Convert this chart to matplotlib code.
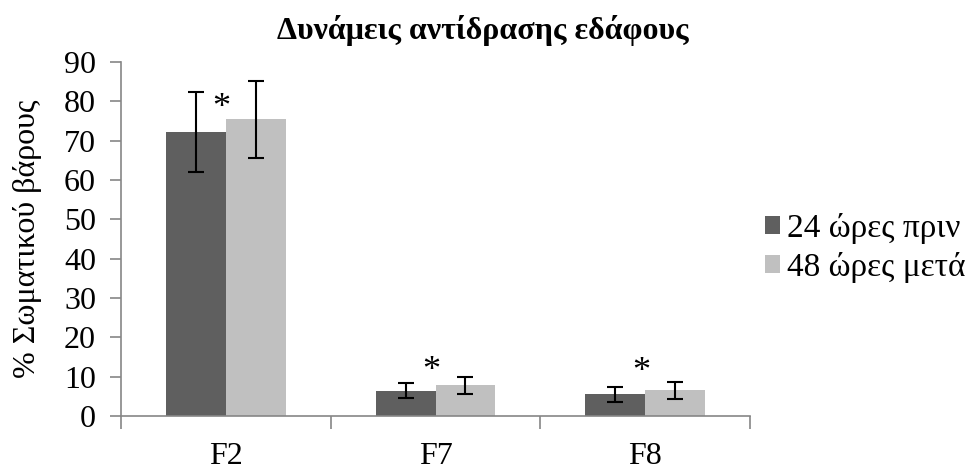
import numpy as np
import matplotlib
matplotlib.use('Agg')
from matplotlib import pyplot as plt

cats = ['F2', 'F7', 'F8']
before = [72.2, 6.4, 5.5]
before_err = [10.1, 1.9, 1.9]
after = [75.4, 7.8, 6.5]
after_err = [9.8, 2.2, 2.2]
labels = ['24 ώρες πριν', '48 ώρες μετά']
star_y = [78.3, 11.2, 11.0]

plt.rcParams['font.family'] = ['Liberation Serif', 'DejaVu Serif']

fig = plt.figure(figsize=(9.65, 4.74), dpi=100)
ax = fig.add_axes([121/965, 1-416/474, (750-121)/965, (416-62)/474])

x = np.arange(len(cats))
w = 0.2857
ax.bar(x - w/2, before, w, color='#5f5f5f', label=labels[0],
       yerr=before_err, error_kw=dict(ecolor='black', elinewidth=1.5, capsize=6, capthick=1.5))
ax.bar(x + w/2, after, w, color='#c0c0c0', label=labels[1],
       yerr=after_err, error_kw=dict(ecolor='black', elinewidth=1.5, capsize=6, capthick=1.5))

for i in range(len(cats)):
    ax.text(x[i] - 0.02, star_y[i], '*', ha='center', va='center', fontsize=26)

ax.set_xlim(-0.5, len(cats) - 0.5)
ax.set_ylim(0, 90)
ax.set_yticks(range(0, 91, 10))
ax.tick_params(axis='y', labelsize=23, length=8, width=1.2, color='#868686', pad=10)
ax.set_xticks(x)
ax.set_xticklabels(cats, fontsize=23)
ax.tick_params(axis='x', length=0, pad=19)
ax.set_xticks(np.arange(-0.5, len(cats), 1), minor=True)
ax.tick_params(axis='x', which='minor', length=9, width=1.2, color='#868686')

for s in ['top', 'right']:
    ax.spines[s].set_visible(False)
for s in ['left', 'bottom']:
    ax.spines[s].set_color('#868686')
    ax.spines[s].set_linewidth(1.2)

ax.set_ylabel('% Σωματικού βάρους', fontsize=23, labelpad=16)
fig.text(0.5, 1 - 30/474, 'Δυνάμεις αντίδρασης εδάφους', fontsize=23, fontweight='bold',
         ha='center', va='center')

ax.legend(loc='center left', bbox_to_anchor=(765/965, 1 - 248/474), bbox_transform=fig.transFigure,
          frameon=False, fontsize=24, borderpad=0, borderaxespad=0,
          handlelength=0.45, handleheight=0.45, handletextpad=0.2, labelspacing=0.25)

fig.savefig('out.png', dpi=100)
